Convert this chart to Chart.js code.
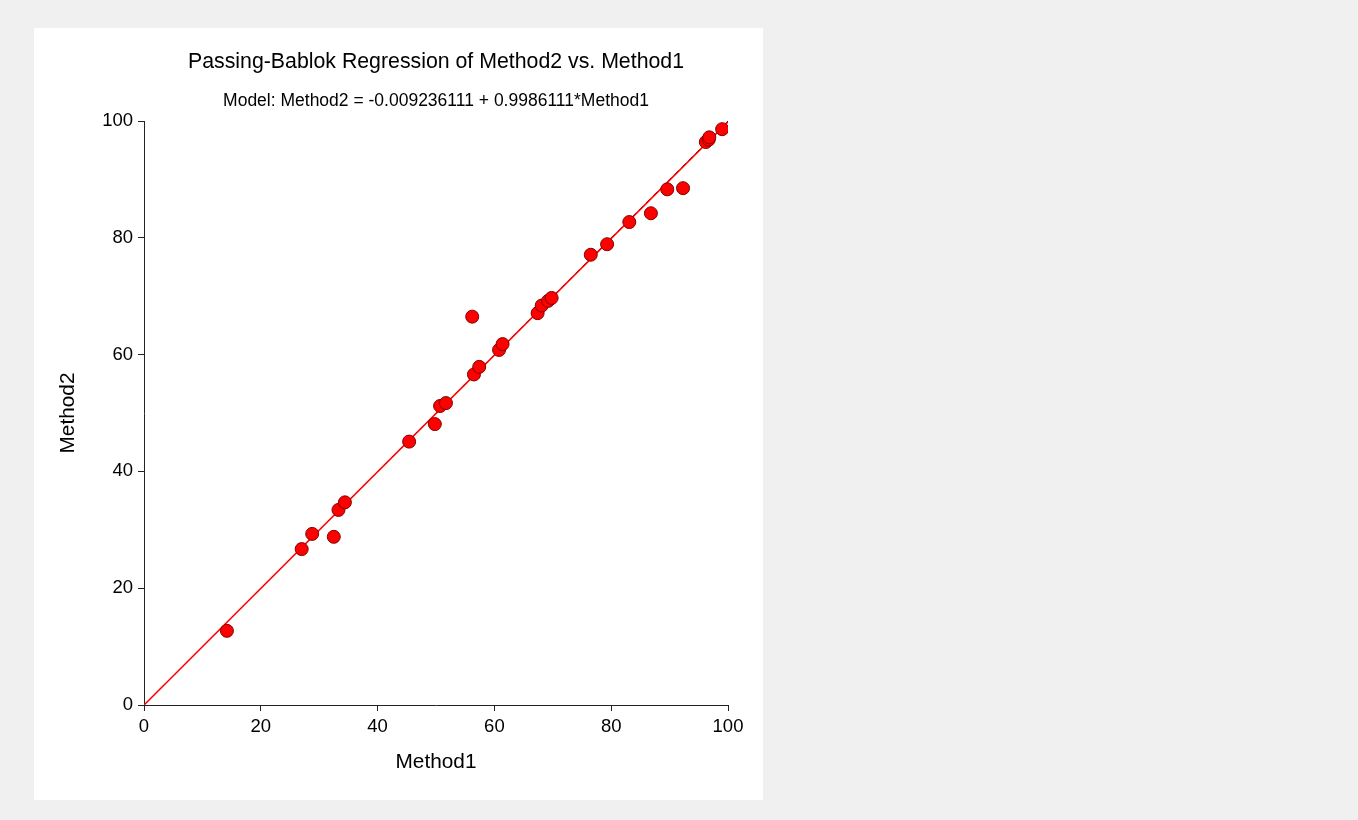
<!DOCTYPE html>
<html>
<head>
    <title>Passing-Bablok Regression</title>
    <script src="https://cdn.jsdelivr.net/npm/chart.js"></script>
    <style>
        body {
            margin: 0;
            background: #f0f0f0;
        }
        .panel {
            position: absolute;
            left: 34px;
            top: 28px;
            width: 729px;
            height: 772px;
            background: #ffffff;
        }
    </style>
</head>
<body>
    <div class="panel">
        <canvas id="pbChart"></canvas>
    </div>

    <script>
        // values
        const method1 = [14.2, 27.0, 28.8, 32.5, 33.3, 34.4, 45.4, 49.8, 50.7, 51.7,
                         56.2, 56.5, 57.4, 60.8, 61.4, 67.4, 68.1, 69.2, 69.8, 76.5,
                         79.3, 83.1, 86.8, 89.6, 92.3, 96.2, 96.7, 96.8, 99.0];
        const method2 = [12.7, 26.7, 29.3, 28.8, 33.4, 34.7, 45.1, 48.1, 51.2, 51.7,
                         66.5, 56.6, 57.9, 60.8, 61.8, 67.1, 68.4, 69.2, 69.7, 77.1,
                         78.9, 82.7, 84.2, 88.3, 88.5, 96.4, 96.8, 97.2, 98.6];
        const intercept = -0.009236111;
        const slope = 0.9986111;
        const lineEnds = [0, 100];
        const tickValues = [0, 20, 40, 60, 80, 100];
        const titleText = 'Passing-Bablok Regression of Method2 vs. Method1';
        const subtitleText = 'Model: Method2 = -0.009236111 + 0.9986111*Method1';

        const fontFamily = '"Liberation Sans", Arial, sans-serif';

        const pointsData = method1.map((x, i) => ({ x: x, y: method2[i] }));
        const fitData = lineEnds.map(x => ({ x: x, y: intercept + slope * x }));
        const identityData = lineEnds.map(x => ({ x: x, y: x }));

        // title + subtitle are centred over the plot area, not the canvas
        const centeredTitles = {
            id: 'centeredTitles',
            afterDraw(chart) {
                const { ctx, chartArea } = chart;
                const cx = (chartArea.left + chartArea.right) / 2;
                ctx.save();
                ctx.fillStyle = '#000';
                ctx.textAlign = 'center';
                ctx.textBaseline = 'middle';
                ctx.font = '21.3px ' + fontFamily;
                ctx.fillText(titleText, cx, 34);
                ctx.font = '17.5px ' + fontFamily;
                ctx.fillText(subtitleText, cx, 73);
                ctx.restore();
            }
        };

        const axisCommon = {
            type: 'linear',
            min: 0,
            max: 100,
            afterBuildTicks: axis => { axis.ticks = tickValues.map(v => ({ value: v })); },
            grid: { display: true, drawOnChartArea: false, drawTicks: true, tickLength: 6, color: '#222', lineWidth: 1 },
            border: { display: true, color: '#222', width: 1 },
            ticks: { color: '#000', font: { family: fontFamily, size: 18.5 }, padding: 5 }
        };

        new Chart(document.getElementById('pbChart').getContext('2d'), {
            type: 'scatter',
            data: {
                datasets: [
                    {
                        label: 'Data',
                        data: pointsData,
                        backgroundColor: '#ff0000',
                        borderColor: '#800000',
                        borderWidth: 1,
                        pointRadius: 6.5,
                        pointHoverRadius: 6.5
                    },
                    {
                        label: 'Passing-Bablok fit',
                        type: 'line',
                        data: fitData,
                        borderColor: '#ff0000',
                        borderWidth: 1.5,
                        pointRadius: 0,
                        fill: false
                    },
                    {
                        label: 'Y = X',
                        type: 'line',
                        data: identityData,
                        borderColor: '#000000',
                        borderWidth: 1,
                        borderDash: [6, 4],
                        pointRadius: 0,
                        fill: false
                    }
                ]
            },
            options: {
                responsive: true,
                maintainAspectRatio: false,
                animation: false,
                layout: { padding: { left: 0, right: 35, top: 93, bottom: 0 } },
                plugins: {
                    legend: { display: false },
                    tooltip: { enabled: false },
                    title: { display: false }
                },
                scales: {
                    x: Object.assign({}, axisCommon, {
                        position: 'bottom',
                        title: { display: true, text: 'Method1', color: '#000', font: { family: fontFamily, size: 20.8 }, padding: { top: 0, bottom: 25 } },
                        afterFit: axis => { axis.height = 95; }
                    }),
                    y: Object.assign({}, axisCommon, {
                        position: 'left',
                        title: { display: true, text: 'Method2', color: '#000', font: { family: fontFamily, size: 20.8 }, padding: { top: 22, bottom: 0 } },
                        afterFit: axis => { axis.width = 110; }
                    })
                }
            },
            plugins: [centeredTitles]
        });
    </script>
</body>
</html>
